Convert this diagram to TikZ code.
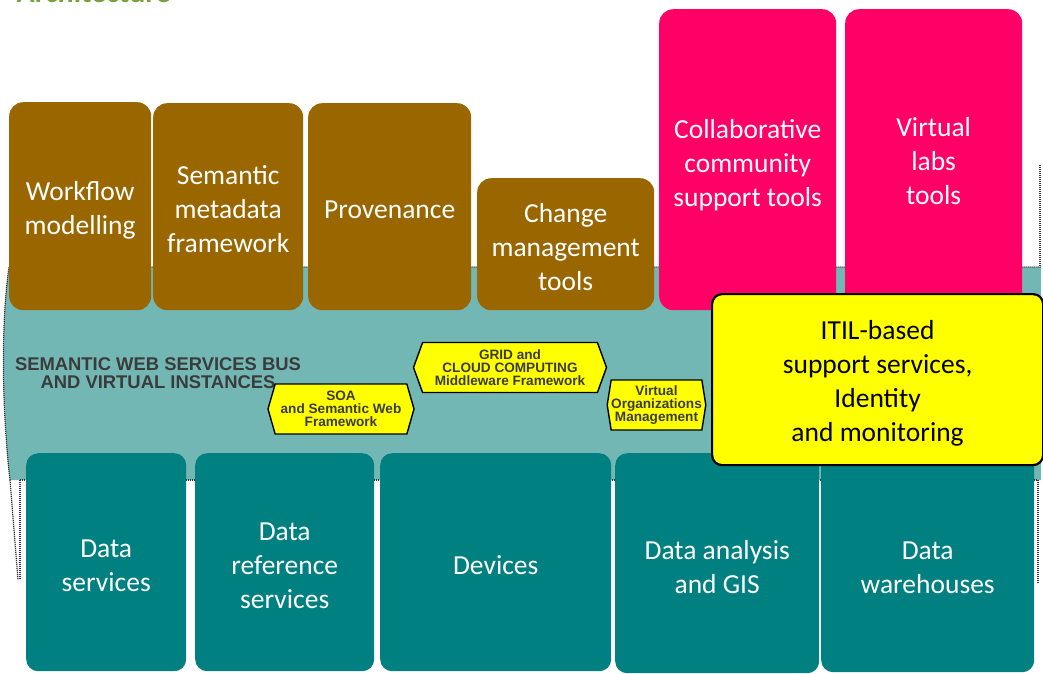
\documentclass[tikz,border=0pt]{standalone}
\usepackage{fontspec}
\setmainfont{Carlito}
\newfontfamily\arialf{Liberation Sans}
\usetikzlibrary{shapes.symbols}
\definecolor{bandc}{HTML}{72B7B4}
\definecolor{tealc}{HTML}{008080}
\definecolor{brownc}{HTML}{996600}
\definecolor{pinkc}{HTML}{FF0066}
\definecolor{yelc}{HTML}{FFFF00}
\definecolor{dotc}{HTML}{333333}
\definecolor{greenc}{HTML}{76A23C}
\definecolor{labc}{HTML}{3B3B3B}
\tikzset{
  box/.style={rounded corners=14pt, inner sep=0pt, anchor=north west},
  boxtext/.style={text=white, align=center, inner sep=0pt, yshift=-4pt,
    font=\fontsize{27.5}{34}\selectfont},
  brownbox/.style={box, fill=brownc},
  pinkbox/.style={box, fill=pinkc},
  tealbox/.style={box, fill=tealc, rounded corners=12pt},
  itilbox/.style={box, fill=yelc, draw=black, line width=2.2pt, rounded corners=10pt},
  hexbox/.style={shape=signal, signal to=west and east, signal from=nowhere,
    fill=yelc, draw=black, line width=1.4pt, inner sep=0pt, align=center, text=labc,
    font=\arialf\bfseries\fontsize{13.6}{13}\selectfont},
  dotline/.style={draw=dotc, line width=1.2pt, dash pattern=on 1.2pt off 0.8pt},
}
\begin{document}
\begin{tikzpicture}[x=1pt,y=-1pt]
\useasboundingbox (0,0) rectangle (1043,673);
\clip (0,0) rectangle (1043,673);
% title fragment
\node[anchor=base east, text=greenc, inner sep=0pt, font=\bfseries\fontsize{30}{36}\selectfont] (title) at (171,2) {Architecture};
% band
\fill[bandc] (9,267) -- (1041,267) -- (1041,480) -- (10,480) .. controls (3,420) and (0,330) .. (9,267) -- cycle;
\draw[dotline] (10,480) .. controls (3,420) and (0,330) .. (9,267) -- (1041,267);
\draw[dotline] (1040,165) -- (1040,267);
\draw[dotline] (20,480) -- (1038,480);
\draw[dotline] (1038,480) -- (1038,583);
\draw[dotline] (20,480) -- (20,580);
\draw[dotline] (10,480) -- (18,580);
% bottom teal boxes
\node[tealbox, minimum width=160pt, minimum height=218pt,
  label={[boxtext, name=dst]center:{Data\\services}}] (ds) at (26,453) {};
\node[tealbox, minimum width=179pt, minimum height=218pt,
  label={[boxtext, name=drst]center:{Data\\reference\\services}}] (drs) at (195,453) {};
\node[tealbox, minimum width=231pt, minimum height=218pt,
  label={[boxtext, name=devt, yshift=1pt]center:{Devices}}] (dev) at (380,453) {};
\node[tealbox, minimum width=204pt, minimum height=220pt,
  label={[boxtext, name=gist]center:{Data analysis\\and GIS}}] (gis) at (615,453) {};
\node[tealbox, minimum width=213pt, minimum height=219pt,
  label={[boxtext, name=dwt, yshift=-1pt]center:{Data\\warehouses}}] (dw) at (821,453) {};
% top boxes
\node[brownbox, minimum width=142pt, minimum height=208pt,
  label={[boxtext, name=wft]center:{Workflow\\modelling}}] (wf) at (9,102) {};
\node[brownbox, minimum width=150pt, minimum height=207pt,
  label={[boxtext, name=smft, yshift=2pt]center:{Semantic\\metadata\\framework}}] (smf) at (153,103) {};
\node[brownbox, minimum width=163pt, minimum height=207pt,
  label={[boxtext, name=provt, yshift=1pt]center:{Provenance}}] (prov) at (308,103) {};
\node[brownbox, minimum width=177pt, minimum height=132pt,
  label={[boxtext, name=cmtt, yshift=1pt]center:{Change\\management\\tools}}] (cmt) at (477,178) {};
\node[pinkbox, minimum width=177pt, minimum height=301pt,
  label={[boxtext, name=cstt, yshift=-1pt]center:{Collaborative\\community\\support tools}}] (cst) at (659,9) {};
\node[pinkbox, minimum width=177pt, minimum height=301pt,
  label={[boxtext, name=vltt, yshift=2.5pt]center:{Virtual\\labs\\tools}}] (vlt) at (845,9) {};
% bus label
\node[inner sep=0pt, align=center, text=labc, font=\arialf\bfseries\fontsize{18.4}{18}\selectfont] (bus) at (158,373.5) {SEMANTIC WEB SERVICES BUS\\AND VIRTUAL INSTANCES};
% hexagons
\node[hexbox, signal pointer angle=148, minimum width=146pt, minimum height=50pt] (soa) at (341,409) {SOA\\and Semantic Web\\Framework};
\node[hexbox, signal pointer angle=140, minimum width=193pt, minimum height=50pt] (grid) at (510,367.5) {GRID and\\CLOUD COMPUTING\\Middleware Framework};
\node[hexbox, signal pointer angle=162, minimum width=96pt, minimum height=50pt] (vom) at (656.5,405) {Virtual\\Organizations\\Management};
% ITIL box
\node[itilbox, minimum width=331pt, minimum height=171pt,
  label={[boxtext, name=itilt, text=black]center:{ITIL-based\\support services,\\Identity\\and monitoring}}] (itil) at (711,293) {};
\end{tikzpicture}
\end{document}
